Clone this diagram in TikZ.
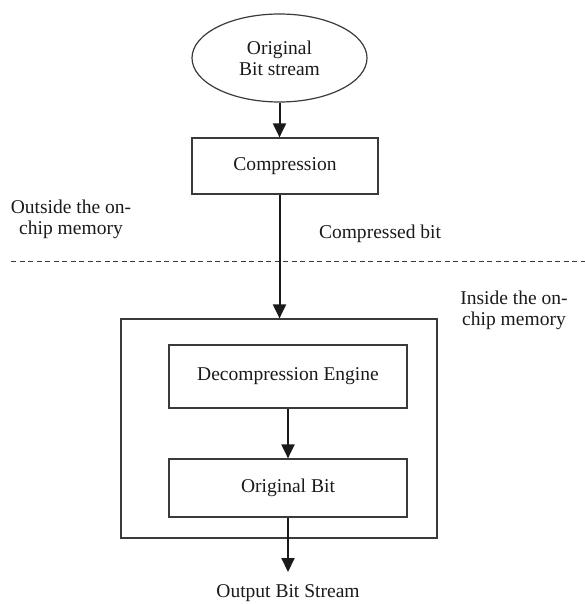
\documentclass[tikz,border=0pt]{standalone}
\usepackage{fontspec}
\setmainfont{Liberation Serif}
\usetikzlibrary{shapes.geometric}
\usetikzlibrary{arrows.meta}
\definecolor{boxColor}{HTML}{3A3A3A}
\definecolor{arrowColor}{HTML}{1A1A1A}
\definecolor{dashColor}{HTML}{3A3A3A}
\definecolor{labelTextColor}{HTML}{1A1A1A}
\def\textSrc{Original\\Bit stream}
\def\textComp{Compression}
\def\textDec{Decompression Engine}
\def\textOrig{Original Bit}
\def\textOut{Output Bit Stream}
\def\textLink{Compressed bit}
\def\textOutside{Outside the on-\\chip memory}
\def\textInside{Inside the on-\\chip memory}

\begin{document}
\begin{tikzpicture}[x=1bp,y=-1bp,
  every node/.style={font=\fontsize{19.6}{21}\selectfont, text=labelTextColor},
  box/.style={draw=boxColor, line width=1.2bp, rectangle, inner sep=0pt},
  flow/.style={draw=arrowColor, line width=2bp, -{Triangle[length=14bp,width=13bp]}}]

\useasboundingbox (0, 0) rectangle (585, 604);

% memory layer
\begin{scope}
\node[box, minimum width=316bp, minimum height=219bp] (chip) at (279, 428.5) {};
\node[box, minimum width=238bp, minimum height=63bp] (dec) at (288, 376.5) {\textDec};
\node[box, minimum width=238bp, minimum height=58bp] (orig) at (288, 488) {\textOrig};
\end{scope}

% source layer
\begin{scope}
\node[draw=boxColor, line width=1.2bp, ellipse, inner sep=0pt,
minimum width=175bp, minimum height=88bp, align=center] (src) at (279.5, 58) {\textSrc};
\node[box, minimum width=186bp, minimum height=56bp] (comp) at (285, 166) {\textComp};
\end{scope}

% boundary
\begin{scope}
\coordinate (lineL) at (11, 261);
\coordinate (lineR) at (585, 261);
\draw[dashColor, line width=1bp, dash pattern=on 5bp off 3.5bp] (lineL) -- (lineR);
\node[anchor=north, align=center, inner sep=0pt] (outside) at (71, 200) {\textOutside};
\node[anchor=north, align=center, inner sep=0pt] (inside) at (514, 291) {\textInside};
\end{scope}

% link layer
\begin{scope}
\draw[flow] (src.south) -- (src.south |- comp.north);
\draw[flow] (comp.south -| src.south) -- (chip.north -| src.south)
node[pos=0.5, anchor=base west, inner sep=0pt, xshift=38.5bp, yshift=18.5bp] (link) {\textLink};
\draw[flow] (dec.south) -- (orig.north);
\coordinate (outTip) at (288, 572);
\draw[flow] (orig.south) -- (outTip);
\node[anchor=base, inner sep=0pt] (out) at (288, 597) {\textOut};
\end{scope}

\end{tikzpicture}
\end{document}
